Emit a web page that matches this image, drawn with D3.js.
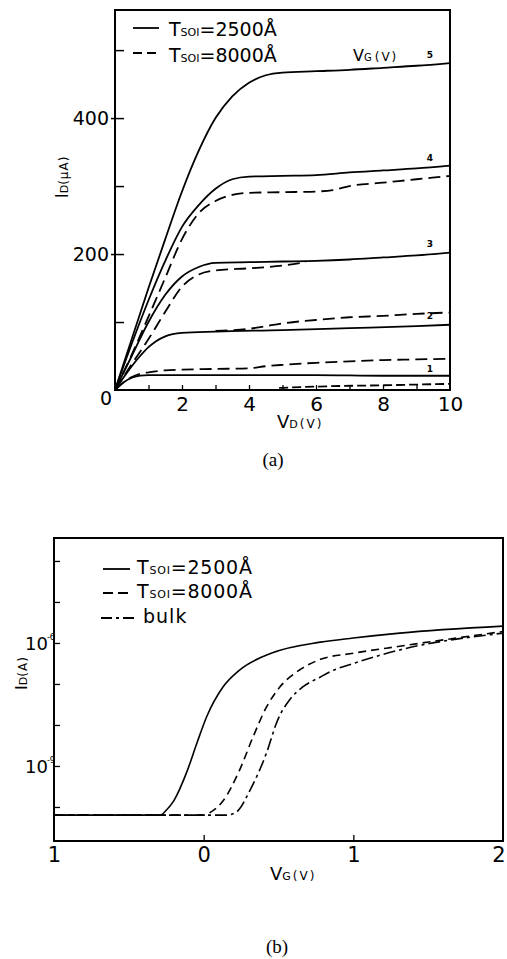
<!DOCTYPE html>
<html><head><meta charset="utf-8">
<script src="https://cdn.jsdelivr.net/npm/d3@7"></script>
<style>
body{margin:0;background:#fff}
svg{display:block}
text{font-family:"DejaVu Sans",sans-serif;fill:#000}
</style>
</head><body>
<svg id="c" width="507" height="959"></svg>
<script>
// ---------- Data: panel (a)  I_D (uA) vs V_D (V) ----------
const vdMinorTicks = [1,2,3,4,5,6,7,8,9];
const vdTickLabels = [2,4,6,8,10];
const idMinorTicks = [100,200,300,400,500];
const idTickLabels = [0,200,400];
const vgCurveLabels = ["1","2","3","4","5"];
const vgLabelValues = [27,104,211,337,489];

const solidVG1 = [[0,0],[0.25,11],[0.5,18],[0.75,21],[1,22],[2,22],[4,22],[6,22],[8,21],[10,21]];
const solidVG2 = [[0,0],[0.25,18],[0.5,35],[0.75,50],[1,63],[1.5,79],[2,84],[3,86],[5,88],[7,91],[9,94],[10,96]];
const solidVG3 = [[0,0],[0.5,50],[1,100],[1.5,140],[2,167],[2.5,181],[3,187],[4,188],[5,189],[6,190],[7,192],[8,195],[9,198],[10,202]];
const solidVG4 = [[0,0],[0.5,68],[1,132],[1.5,190],[2,240],[2.5,272],[3,296],[3.5,310],[4,314],[5,315],[6,316],[7,320],[8,323],[9,326],[10,330]];
const solidVG5 = [[0,0],[0.5,75],[1,150],[1.5,222],[2,292],[2.5,352],[3,400],[3.5,432],[4,452],[4.5,463],[5,467],[6,469],[7,471],[8,474],[9,477],[10,481]];

const dashedVG0 = [[4.9,3],[6,5],[8,7],[10,9]];
const dashedVG1 = [[0,0],[0.25,11],[0.5,19],[0.75,24],[1,26],[1.5,29],[2,30],[3,31],[4,32],[4.5,35],[5,37],[6,40],[7,42],[8,44],[9,45],[10,46]];
const dashedVG2 = [[3,87],[3.5,88],[4,90],[4.5,94],[5,98],[6,103],[7,107],[8,109],[9,112],[10,114]];
const dashedVG3 = [[0,0],[0.5,38],[1,75],[1.5,115],[2,152],[2.5,170],[3,176],[4,179],[5,183],[5.7,188]];
const dashedVG4 = [[0,0],[0.5,52],[1,108],[1.5,165],[2,222],[2.5,260],[3,278],[3.5,287],[4,290],[5,291],[6,292],[6.5,294],[7,300],[8,305],[9,310],[10,315]];

// ---------- Data: panel (b)  log10 I_D (A) vs V_G (V) ----------
const vgTickValues = [-1,0,1,1.97];
const vgTickLabels = ["1","0","1","2"];
const vgMinorTicks = [0,1];
const idDecades = [-4,-5,-6,-7,-8,-9,-10];
const idDecadeLabels = [-6,-9];

const soi2500Log = [[-1,-10.2],[-0.29,-10.2],[-0.25,-10.08],[-0.2,-9.85],[-0.11,-9.12],[-0.045,-8.44],[0.02,-7.8],[0.13,-7.07],[0.24,-6.66],[0.46,-6.24],[0.78,-5.98],[1.0,-5.88],[1.31,-5.76],[2,-5.59]];
const soi8000Log = [[-1,-10.2],[0,-10.2],[0.05,-10.12],[0.13,-9.85],[0.24,-9.1],[0.33,-8.29],[0.42,-7.56],[0.51,-7.07],[0.64,-6.66],[0.78,-6.4],[1.0,-6.25],[1.31,-6.08],[2,-5.72]];
const bulkLog = [[-1,-10.2],[0.15,-10.2],[0.22,-10.12],[0.31,-9.59],[0.42,-8.68],[0.49,-7.92],[0.58,-7.36],[0.66,-7.08],[0.78,-6.83],[0.87,-6.66],[1.0,-6.5],[1.31,-6.17],[2,-5.76]];

// ---------- Drawing ----------
const svg = d3.select("#c");
const SW = 1.8;

// ===== Panel (a) =====
const xA = d3.scaleLinear().domain([0,10]).range([115,450]);
const yA = d3.scaleLinear().domain([0,559]).range([390,10]);
const lineA = d3.line().x(d=>xA(d[0])).y(d=>yA(d[1])).curve(d3.curveMonotoneX);

const gA = svg.append("g");
gA.append("rect").attr("x",xA(0)).attr("y",yA(559)).attr("width",xA(10)-xA(0)).attr("height",yA(0)-yA(559))
  .attr("fill","none").attr("stroke","#000").attr("stroke-width",2);

gA.append("g").attr("transform",`translate(0,${yA(0)})`)
  .call(d3.axisBottom(xA).tickValues(vdMinorTicks).tickSize(-5).tickFormat(""))
  .call(g=>{g.select(".domain").remove(); g.selectAll("line").attr("stroke-width",1.3);});
gA.append("g").attr("transform",`translate(0,${yA(0)})`)
  .call(d3.axisBottom(xA).tickValues(vdTickLabels).tickSize(0).tickPadding(7))
  .call(g=>{g.select(".domain").remove(); g.selectAll("text").attr("font-size",20).attr("font-family","DejaVu Sans");});
gA.append("g").attr("transform",`translate(${xA(0)},0)`)
  .call(d3.axisLeft(yA).tickValues(idMinorTicks).tickSize(-9).tickFormat(""))
  .call(g=>{g.select(".domain").remove(); g.selectAll("line").attr("stroke-width",1.5);});
gA.append("g").attr("transform",`translate(${xA(0)},0)`)
  .call(d3.axisLeft(yA).tickValues(idTickLabels).tickSize(4).tickPadding(2))
  .call(g=>{
    g.select(".domain").remove();
    g.selectAll("line").attr("stroke-width",1.5);
    g.selectAll(".tick").filter(d=>d===0).select("line").remove();
    g.selectAll("text").attr("font-size",19).attr("font-family","DejaVu Sans");
    g.selectAll(".tick").filter(d=>d===0).select("text").attr("dy","0.75em").attr("x",-3);
  });

const seriesA = [
  {d:solidVG1,dash:null},{d:solidVG2,dash:null},{d:solidVG3,dash:null},{d:solidVG4,dash:null},{d:solidVG5,dash:null},
  {d:dashedVG0,dash:"9,4"},{d:dashedVG1,dash:"12,6"},{d:dashedVG2,dash:"12,6"},{d:dashedVG3,dash:"12,6"},{d:dashedVG4,dash:"12,6"}
];
gA.selectAll("path.curve").data(seriesA).join("path").attr("class","curve")
  .attr("d",s=>lineA(s.d)).attr("fill","none").attr("stroke","#000").attr("stroke-width",SW)
  .attr("stroke-dasharray",s=>s.dash);

gA.selectAll("text.vg").data(vgCurveLabels).join("text").attr("class","vg")
  .attr("x",xA(9.4)).attr("y",(d,i)=>yA(vgLabelValues[i])).attr("font-size",9).attr("font-weight","bold")
  .attr("text-anchor","middle").text(d=>d);

const vgh = gA.append("text").attr("x",353).attr("y",61);
vgh.append("tspan").attr("font-size",16).text("V");
vgh.append("tspan").attr("font-size",10).text("G");
vgh.append("tspan").attr("font-size",12).attr("dx",3).attr("letter-spacing",2).text("(V)");

function tsoiText(g,x,y,val,fs,sub){
  const t = g.append("text").attr("x",x).attr("y",y).attr("font-size",fs);
  t.append("tspan").text("T");
  t.append("tspan").attr("font-size",sub).text("SOI");
  t.append("tspan").text("="+val+"Å");
  return t;
}
gA.append("line").attr("x1",133).attr("x2",159).attr("y1",28).attr("y2",28).attr("stroke","#000").attr("stroke-width",SW);
tsoiText(gA,169,36,"2500",19,11);
gA.append("line").attr("x1",133).attr("x2",159).attr("y1",53).attr("y2",53).attr("stroke","#000").attr("stroke-width",SW).attr("stroke-dasharray","9,5");
tsoiText(gA,169,62,"8000",19,11);

const xtA = gA.append("text").attr("x",277).attr("y",428);
xtA.append("tspan").attr("font-size",18).text("V");
xtA.append("tspan").attr("font-size",11).text("D");
xtA.append("tspan").attr("font-size",12).attr("dx",2).attr("letter-spacing",2).text("(V)");
const ytA = gA.append("text").attr("transform","translate(68,177) rotate(-90)").attr("text-anchor","middle");
ytA.append("tspan").attr("font-size",17).text("I");
ytA.append("tspan").attr("font-size",11).text("D");
ytA.append("tspan").attr("font-size",12).attr("letter-spacing",1).text("(μA)");
gA.append("text").attr("x",273).attr("y",466).attr("text-anchor","middle").attr("font-size",19)
  .style("font-family","'Liberation Serif',serif").text("(a)");

// ===== Panel (b) =====
const xB = d3.scaleLinear().domain([-1,2]).range([54,503]);
const yB = d3.scaleLog().domain([Math.pow(10,-10.83),Math.pow(10,-3.44)]).range([841,538]);
const lineB = d3.line().x(d=>xB(d[0])).y(d=>yB(Math.pow(10,d[1]))).curve(d3.curveMonotoneX);
const gB = svg.append("g");
gB.append("rect").attr("x",xB(-1)).attr("y",538).attr("width",xB(2)-xB(-1)).attr("height",841-538)
  .attr("fill","none").attr("stroke","#000").attr("stroke-width",2);

gB.append("g").attr("transform",`translate(0,841)`)
  .call(d3.axisBottom(xB).tickValues(vgMinorTicks).tickSize(-6).tickFormat(""))
  .call(g=>{g.select(".domain").remove(); g.selectAll("line").attr("stroke-width",1.3);});
gB.append("g").attr("transform",`translate(0,841)`)
  .call(d3.axisBottom(xB).tickValues(vgTickValues).tickSize(0).tickPadding(6).tickFormat((d,i)=>vgTickLabels[i]))
  .call(g=>{g.select(".domain").remove(); g.selectAll("text").attr("font-size",21).attr("font-family","DejaVu Sans");});
gB.append("g").attr("transform",`translate(${xB(-1)},0)`)
  .call(d3.axisLeft(yB).tickValues(idDecades.map(e=>Math.pow(10,e))).tickSize(-6).tickFormat(""))
  .call(g=>{g.select(".domain").remove(); g.selectAll("line").attr("stroke-width",1.3);});
idDecadeLabels.forEach(e=>{
  const t = gB.append("text").attr("x",25).attr("y",yB(Math.pow(10,e))+7).attr("font-size",18);
  t.append("tspan").text("10");
  t.append("tspan").attr("font-size",8).attr("dy",-10).attr("dx",-1).text("-"+(-e));
});

const seriesB = [
  {d:soi2500Log,dash:null},
  {d:soi8000Log,dash:"8,5"},
  {d:bulkLog,dash:"12,4,3,4"}
];
gB.selectAll("path.curve").data(seriesB).join("path").attr("class","curve")
  .attr("d",s=>lineB(s.d)).attr("fill","none").attr("stroke","#000").attr("stroke-width",1.6)
  .attr("stroke-dasharray",s=>s.dash);

gB.append("line").attr("x1",103).attr("x2",130).attr("y1",569).attr("y2",569).attr("stroke","#000").attr("stroke-width",SW);
tsoiText(gB,137,574,"2500",19,11).attr("letter-spacing",0.8);
gB.append("line").attr("x1",103).attr("x2",131).attr("y1",593).attr("y2",593).attr("stroke","#000").attr("stroke-width",SW).attr("stroke-dasharray","10,5");
tsoiText(gB,137,598,"8000",19,11).attr("letter-spacing",0.8);
gB.append("line").attr("x1",101).attr("x2",135).attr("y1",618).attr("y2",618).attr("stroke","#000").attr("stroke-width",SW).attr("stroke-dasharray","11,4,3,4");
gB.append("text").attr("x",143).attr("y",623).attr("font-size",19).attr("letter-spacing",1).text("bulk");

const xtB = gB.append("text").attr("x",270).attr("y",880);
xtB.append("tspan").attr("font-size",18).text("V");
xtB.append("tspan").attr("font-size",11).text("G");
xtB.append("tspan").attr("font-size",12).attr("dx",2).attr("letter-spacing",2).text("(V)");
const ytB = gB.append("text").attr("transform","translate(27,673) rotate(-90)").attr("text-anchor","middle");
ytB.append("tspan").attr("font-size",16).text("I");
ytB.append("tspan").attr("font-size",11).text("D");
ytB.append("tspan").attr("font-size",12).attr("letter-spacing",1).text("(A)");
gB.append("text").attr("x",277).attr("y",953).attr("text-anchor","middle").attr("font-size",19)
  .style("font-family","'Liberation Serif',serif").text("(b)");
</script>
</body></html>
